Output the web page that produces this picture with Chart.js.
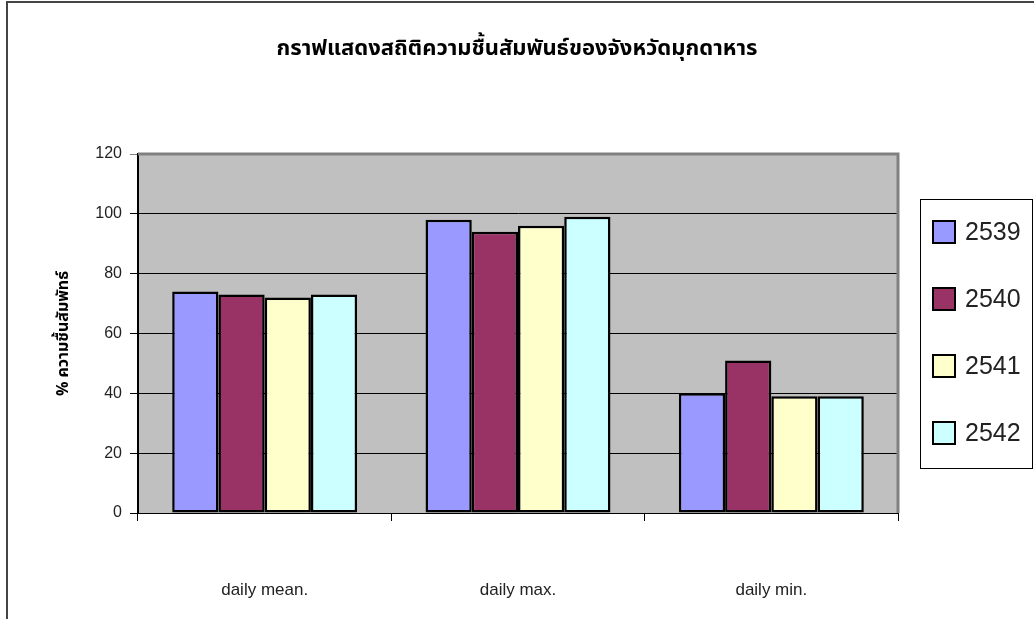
<!DOCTYPE html>
<html>
<head>
<meta charset="utf-8">
<script src="https://cdn.jsdelivr.net/npm/chart.js@4.4.0/dist/chart.umd.min.js"></script>
<style>
  html, body { margin: 0; padding: 0; background: #fff; }
  #wrap { width: 1034px; height: 619px; position: relative; }
</style>
</head>
<body>
<div id="wrap"><canvas id="chart" width="1034" height="619"></canvas></div>
<script>
// ข้อมูลความชื้นสัมพัทธ์ (%)
const categories = ['daily mean.', 'daily max.', 'daily min.'];
const years = ['2539', '2540', '2541', '2542'];
const values2539 = [74, 98, 40];
const values2540 = [73, 94, 51];
const values2541 = [72, 96, 39];
const values2542 = [73, 99, 39];
const yTicks = [0, 20, 40, 60, 80, 100, 120];

const colors = ['#9999FF', '#993366', '#FFFFCC', '#CCFFFF'];
const thaiFont = "'Noto Sans Thai', 'Noto Sans', Tahoma, sans-serif";
const latinFont = "'Liberation Sans', Arial, sans-serif";

// fond gris de la zone de tracé + cadre extérieur
const plotBackground = {
    id: 'plotBackground',
    beforeDraw(chart) {
        const { ctx, chartArea: a } = chart;
        ctx.save();
        ctx.fillStyle = '#C0C0C0';
        ctx.fillRect(a.left, a.top, a.right - a.left, a.bottom - a.top);
        // cadre du graphique
        ctx.strokeStyle = '#444';
        ctx.lineWidth = 2;
        ctx.beginPath();
        ctx.moveTo(7, 640);
        ctx.lineTo(7, 2);
        ctx.lineTo(1040, 2);
        ctx.stroke();
        ctx.restore();
    },
    beforeDatasetsDraw(chart) {
        const { ctx, chartArea: a } = chart;
        ctx.save();
        ctx.strokeStyle = '#808080';
        ctx.lineWidth = 3;
        ctx.beginPath();
        ctx.moveTo(a.left, a.top);
        ctx.lineTo(a.right, a.top);
        ctx.lineTo(a.right, a.bottom);
        ctx.stroke();
        ctx.restore();
    }
};

// légende encadrée à droite
const boxedLegend = {
    id: 'boxedLegend',
    afterDraw(chart) {
        const { ctx } = chart;
        const left = 920, top = 199, right = 1032, bottom = 468;
        ctx.save();
        ctx.fillStyle = '#fff';
        ctx.fillRect(left, top, right - left, bottom - top);
        ctx.strokeStyle = '#000';
        ctx.lineWidth = 1;
        ctx.strokeRect(left + 0.5, top + 0.5, right - left, bottom - top);
        ctx.font = '25px ' + latinFont;
        ctx.textBaseline = 'middle';
        chart.data.datasets.forEach((ds, i) => {
            const cy = 232 + i * 67;
            ctx.fillStyle = ds.backgroundColor;
            ctx.fillRect(933, cy - 11, 22, 22);
            ctx.lineWidth = 2;
            ctx.strokeStyle = '#000';
            ctx.strokeRect(933, cy - 11, 22, 22);
            ctx.fillStyle = '#222';
            ctx.fillText(ds.label, 965, cy + 1);
        });
        ctx.restore();
    }
};

const seriesValues = [values2539, values2540, values2541, values2542];

const ctx = document.getElementById('chart').getContext('2d');
const myChart = new Chart(ctx, {
    type: 'bar',
    data: {
        labels: categories,
        datasets: years.map((y, i) => ({
            label: y,
            data: seriesValues[i],
            backgroundColor: colors[i],
            borderColor: '#000',
            borderWidth: 2.5,
            borderSkipped: false,
            barPercentage: 1,
            categoryPercentage: 0.73
        }))
    },
    options: {
        responsive: false,
        animation: false,
        layout: { padding: 0 },
        plugins: {
            legend: { display: false },
            tooltip: { enabled: false },
            title: {
                display: true,
                text: 'กราฟแสดงสถิติความชื้นสัมพันธ์ของจังหวัดมุกดาหาร',
                color: '#000',
                font: { family: thaiFont, size: 22, weight: 'bold', lineHeight: 1.2 },
                padding: { top: 37, bottom: 90.6 }
            }
        },
        scales: {
            x: {
                afterFit(scale) { scale.height = 106; },
                grid: { offset: true, drawOnChartArea: false, tickLength: 8, color: '#000' },
                border: { color: '#000', width: 1 },
                ticks: {
                    color: '#222',
                    padding: 59,
                    font: { family: latinFont, size: 17 }
                }
            },
            y: {
                min: 0,
                max: 120,
                afterFit(scale) { scale.width = 138; },
                afterBuildTicks(scale) { scale.ticks = yTicks.map(v => ({ value: v })); },
                grid: {
                    tickLength: 8,
                    color: ctx => ctx.tick && ctx.tick.value === 120 ? '#808080' : '#000',
                    lineWidth: 1
                },
                border: { color: '#000', width: 2 },
                ticks: {
                    color: '#222',
                    padding: 8,
                    font: { family: latinFont, size: 16 }
                },
                title: {
                    display: true,
                    text: '% ความชื้นสัมพัทธ์',
                    color: '#000',
                    font: { family: thaiFont, size: 16, weight: 'bold', lineHeight: 1.2 },
                    padding: { top: 55, bottom: 0 }
                }
            },
            // espace réservé pour la légende à droite
            yLegend: {
                position: 'right',
                afterFit(scale) { scale.width = 136; },
                grid: { display: false },
                border: { display: false },
                ticks: { display: false }
            }
        }
    },
    plugins: [plotBackground, boxedLegend]
});
</script>
</body>
</html>
